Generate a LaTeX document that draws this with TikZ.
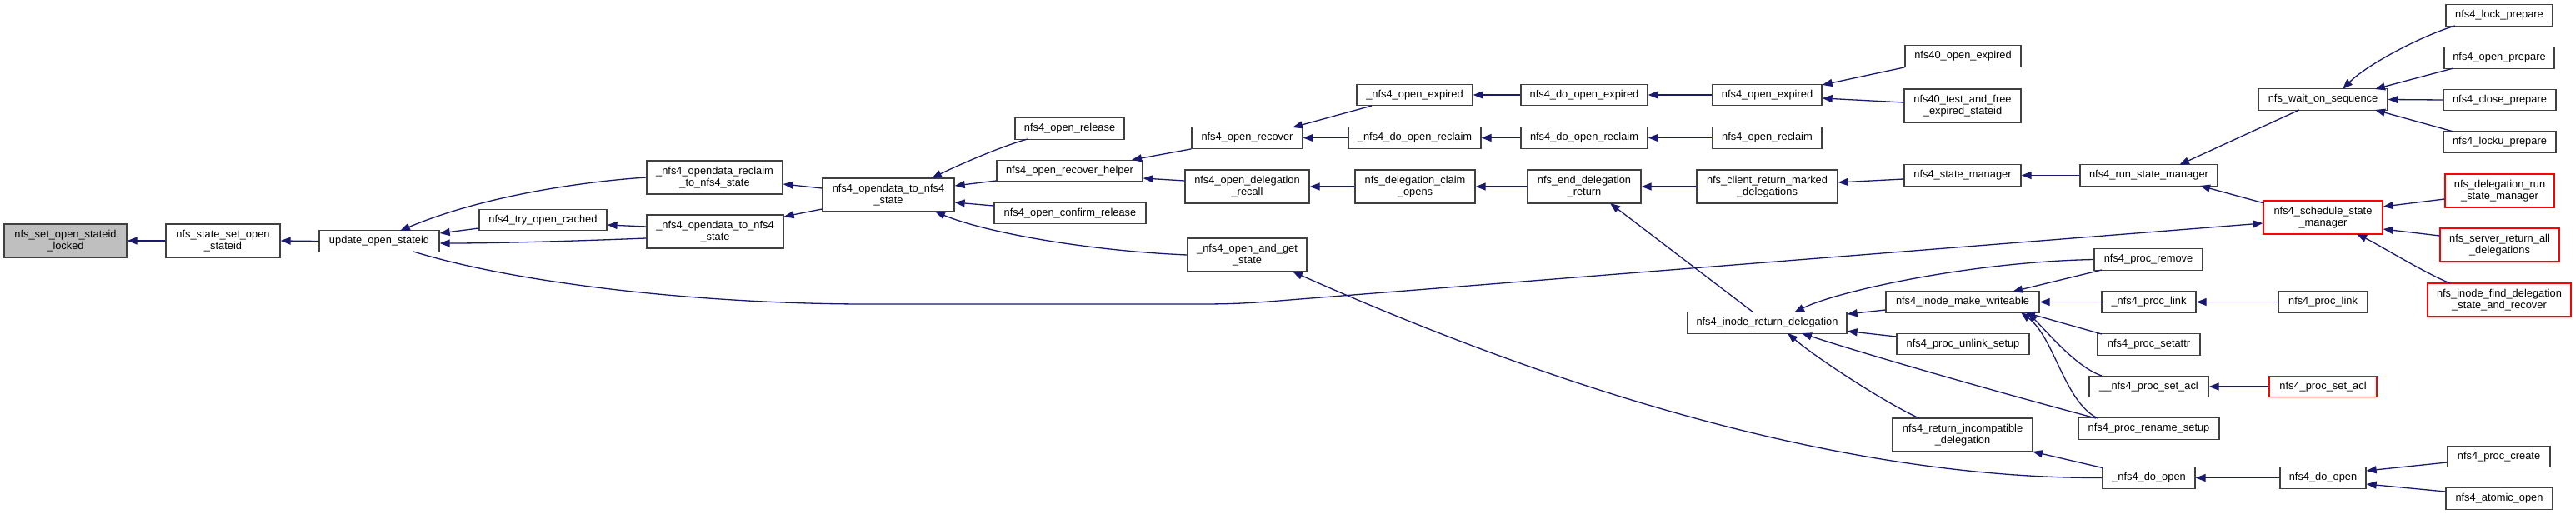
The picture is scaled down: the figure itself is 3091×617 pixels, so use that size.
\documentclass[tikz,border=0pt]{standalone}
\usepackage{fontspec}
\setmainfont{Liberation Sans}
\usetikzlibrary{arrows.meta,calc}
\definecolor{edgeblue}{HTML}{191970}
\definecolor{boxline}{HTML}{404040}
\definecolor{rootfill}{HTML}{BFBFBF}
\begin{document}
\begin{tikzpicture}[x=1pt,y=-1pt,
 box/.style={draw=boxline,line width=1.3pt,fill=white,inner sep=0pt,align=center,font=\fontsize{12.85}{14.5}\selectfont,minimum height=25.5pt},
 tall/.style={minimum height=40pt},
 redbox/.style={draw=red},
 root/.style={fill=rootfill},
 e/.style={edgeblue,line width=1.3pt,-{Triangle[length=12pt,width=9pt]}}]
\useasboundingbox[fill=white] (0,0) rectangle (3091,617);

% rank A-C
\node[box,tall,root,minimum width=147pt] (lk) at (78.5,289) {nfs\_set\_open\_stateid\\\_locked};
\node[box,tall,minimum width=137pt] (sso) at (267.5,289) {nfs\_state\_set\_open\\\_stateid};
\node[box,minimum width=144pt] (uos) at (455,289.5) {update\_open\_stateid};
% rank D-F
\node[box,minimum width=153pt] (toc) at (651.5,264) {nfs4\_try\_open\_cached};
\node[box,tall,minimum width=163pt] (rec) at (857.5,213) {\_nfs4\_opendata\_reclaim\\\_to\_nfs4\_state};
\node[box,tall,minimum width=164pt] (odt) at (858,278) {\_nfs4\_opendata\_to\_nfs4\\\_state};
\node[box,tall,minimum width=158pt] (od4) at (1066,234) {nfs4\_opendata\_to\_nfs4\\\_state};
% rank G
\node[box,minimum width=131pt] (orl) at (1283.5,154.5) {nfs4\_open\_release};
\node[box,minimum width=175pt] (orh) at (1283.5,205) {nfs4\_open\_recover\_helper};
\node[box,minimum width=182pt] (ocr) at (1284,256) {nfs4\_open\_confirm\_release};
% rank H
\node[box,minimum width=133pt] (orc) at (1496.5,165.5) {nfs4\_open\_recover};
\node[box,tall,minimum width=149pt] (odr) at (1496.5,224) {nfs4\_open\_delegation\\\_recall};
\node[box,tall,minimum width=143pt] (oag) at (1496.5,306) {\_nfs4\_open\_and\_get\\\_state};
% rank I
\node[box,minimum width=139pt] (oex) at (1697.5,114) {\_nfs4\_open\_expired};
\node[box,minimum width=159pt] (dor) at (1697.5,165.5) {\_nfs4\_do\_open\_reclaim};
\node[box,tall,minimum width=144pt] (dco) at (1698,224) {nfs\_delegation\_claim\\\_opens};
% rank J
\node[box,minimum width=152pt] (doe) at (1901,114) {nfs4\_do\_open\_expired};
\node[box,minimum width=152pt] (dorc) at (1901,165.5) {nfs4\_do\_open\_reclaim};
\node[box,tall,minimum width=136pt] (edr) at (1901,224) {nfs\_end\_delegation\\\_return};
% rank K
\node[box,minimum width=131pt] (noe) at (2120.5,114) {nfs4\_open\_expired};
\node[box,minimum width=131pt] (nor) at (2120.5,165.5) {nfs4\_open\_reclaim};
\node[box,tall,minimum width=169pt] (crm) at (2120.5,224) {nfs\_client\_return\_marked\\\_delegations};
\node[box,minimum width=191pt] (ird) at (2120.5,387.5) {nfs4\_inode\_return\_delegation};
% rank L
\node[box,minimum width=139pt] (nfe) at (2355.5,67.5) {nfs40\_open\_expired};
\node[box,tall,minimum width=140pt] (nft) at (2355,127) {nfs40\_test\_and\_free\\\_expired\_stateid};
\node[box,minimum width=140pt] (sm) at (2355,210.5) {nfs4\_state\_manager};
\node[box,minimum width=184pt] (imw) at (2355,362.5) {nfs4\_inode\_make\_writeable};
\node[box,minimum width=159pt] (pus) at (2355.5,413) {nfs4\_proc\_unlink\_setup};
\node[box,tall,minimum width=168pt] (ric) at (2355,522) {nfs4\_return\_incompatible\\\_delegation};
% rank M
\node[box,minimum width=165pt] (rsm) at (2578.5,210.5) {nfs4\_run\_state\_manager};
\node[box,minimum width=130pt] (prm) at (2578,311.5) {nfs4\_proc\_remove};
\node[box,minimum width=113pt] (plx) at (2578.5,362.5) {\_nfs4\_proc\_link};
\node[box,minimum width=123pt] (psa) at (2578.5,413.5) {nfs4\_proc\_setattr};
\node[box,minimum width=143pt] (psaclx) at (2578.5,464) {\_\_nfs4\_proc\_set\_acl};
\node[box,minimum width=169pt] (prs) at (2578.5,514.5) {nfs4\_proc\_rename\_setup};
\node[box,minimum width=111pt] (ddo) at (2578.5,573.5) {\_nfs4\_do\_open};
% rank N
\node[box,minimum width=155pt] (nws) at (2787.5,119.5) {nfs\_wait\_on\_sequence};
\node[box,tall,redbox,minimum width=143pt] (ssm) at (2787.5,261) {nfs4\_schedule\_state\\\_manager};
\node[box,minimum width=107pt] (pl) at (2787.5,362.5) {nfs4\_proc\_link};
\node[box,redbox,minimum width=129pt] (psacl) at (2787.5,464) {nfs4\_proc\_set\_acl};
\node[box,minimum width=103pt] (do) at (2787.5,573.5) {nfs4\_do\_open};
% rank O
\node[box,minimum width=128pt] (lkp) at (2999,18.5) {nfs4\_lock\_prepare};
\node[box,minimum width=132pt] (opp) at (2999,69.5) {nfs4\_open\_prepare};
\node[box,minimum width=135pt] (clp) at (2999.5,120) {nfs4\_close\_prepare};
\node[box,minimum width=135pt] (lup) at (2999.5,170.5) {nfs4\_locku\_prepare};
\node[box,tall,redbox,minimum width=131pt] (drsm) at (2999.5,229) {nfs\_delegation\_run\\\_state\_manager};
\node[box,tall,redbox,minimum width=143pt] (srad) at (2999.5,294) {nfs\_server\_return\_all\\\_delegations};
\node[box,tall,redbox,minimum width=172pt] (nifd) at (2999,360) {nfs\_inode\_find\_delegation\\\_state\_and\_recover};
\node[box,minimum width=123pt] (pcr) at (2998.5,548) {nfs4\_proc\_create};
\node[box,minimum width=128pt] (aop) at (2999,598.5) {nfs4\_atomic\_open};

% edges
\draw[e] (sso.west) -- (lk.east);
\draw[e] (uos.west) -- (sso.east);
\draw[e] (rec.west) .. controls +(-76,5) and +(100,-42) .. ($(uos)+(25,-12.5)$);
\draw[e] ($(toc.west)+(0,10)$) -- ($(uos.east)+(0,-9.5)$);
\draw[e] ($(odt.west)+(0,8)$) .. controls +(-76,3) and +(73,0) .. ($(uos.east)+(0,2.5)$);
\draw[e] ($(od4.west)+(0,-8)$) -- ($(rec.east)+(0,8)$);
\draw[e] ($(od4.west)+(0,17)$) -- ($(odt.east)+(0,-18)$);
\draw[e] ($(odt.west)+(0,-6)$) -- ($(toc.east)+(0,6)$);
\draw[e] ($(orl)+(-50.5,12.5)$) .. controls +(-30,8) and +(30,-15) .. ($(od4)+(52,-20)$);
\draw[e] ($(orh.west)+(0,12)$) -- ($(od4.east)+(0,-11)$);
\draw[e] ($(ocr.west)+(0,-9)$) -- ($(od4.east)+(0,9)$);
\draw[e] (oag.west) .. controls +(-120,-5) and +(60,25) .. ($(od4)+(56,20)$);
\draw[e] (orc.south west) -- ($(orh)+(74.5,-13)$);
\draw[e] ($(odr.west)+(0,-7)$) -- ($(orh.east)+(0,9)$);
\draw[e] ($(oex)+(-51.5,13)$) -- ($(orc)+(54.5,-12.5)$);
\draw[e] (dor.west) -- (orc.east);
\draw[e] (dco.west) -- (odr.east);
\draw[e] (doe.west) -- (oex.east);
\draw[e] (dorc.west) -- (dor.east);
\draw[e] (edr.west) -- (dco.east);
\draw[e] (noe.west) -- (doe.east);
\draw[e] (nor.west) -- (dorc.east);
\draw[e] (crm.west) -- (edr.east);
\draw[e] ($(ird)+(-16.5,-12.5)$) -- ($(edr)+(31,20)$);
\draw[e] (nfe.south west) -- ($(noe.east)+(0,-12)$);
\draw[e] ($(nft.west)+(0,-4)$) -- ($(noe.east)+(0,4)$);
\draw[e] ($(sm.west)+(0,4.5)$) -- ($(crm.east)+(0,-5)$);
\draw[e] ($(imw.west)+(0,9.5)$) -- ($(ird.east)+(0,-10.5)$);
\draw[e] ($(pus.west)+(0,-9)$) -- ($(ird.east)+(0,10)$);
\draw[e] ($(ric)+(-52,-20)$) .. controls +(-40,-18) and +(35,30) .. ($(ird)+(24.5,12.5)$);
\draw[e] ($(prs)+(-63.5,-12.5)$) .. controls +(-150,-40) and +(60,20) .. ($(ird)+(41.5,12.5)$);
\draw[e] (prm.west) .. controls +(-150,3) and +(50,-25) .. ($(ird)+(32.5,-12.5)$);
\draw[e] ($(prm)+(-56,12.5)$) -- ($(imw)+(60,-12.5)$);
\draw[e] (plx.west) -- (imw.east);
\draw[e] ($(psa)+(-56.5,-12.5)$) -- ($(imw)+(75,12.5)$);
\draw[e] ($(psaclx)+(-56.5,-13)$) .. controls +(-30,-10) and +(25,25) .. ($(imw)+(78,12.5)$);
\draw[e] ($(prs)+(-61.5,-12.5)$) .. controls +(-40,-20) and +(40,30) .. ($(imw)+(70,12.5)$);
\draw[e] ($(ddo)+(-55.5,-12)$) -- ($(ric)+(84,20)$);
\draw[e] (ddo.west) .. controls +(-323,1) and +(299,133) .. ($(oag)+(54.5,20)$);
\draw[e] ($(uos)+(41,12.5)$) .. controls (626,342) and (850,365) .. (1040,365) -- (1440,365) .. controls (1490,365) and (1510,363) .. (1560,359) -- ($(ssm.west)+(0,7)$);
\draw[e] (rsm.west) -- (sm.east);
\draw[e] ($(nws)+(-28.5,12.5)$) -- ($(rsm)+(36.5,-12.5)$);
\draw[e] ($(ssm)+(-70.5,-17)$) -- ($(rsm)+(61.5,12.5)$);
\draw[e] ($(lkp)+(-53,12.5)$) .. controls +(-40,12) and +(30,-30) .. ($(nws)+(23.5,-12.5)$);
\draw[e] ($(opp)+(-55,12.5)$) -- ($(nws)+(62.5,-12.5)$);
\draw[e] (clp.west) -- (nws.east);
\draw[e] ($(lup)+(-55.5,-12.5)$) -- ($(nws)+(62.5,12.5)$);
\draw[e] ($(drsm.west)+(0,10)$) -- ($(ssm.east)+(0,-13)$);
\draw[e] ($(srad.west)+(0,-11)$) -- ($(ssm.east)+(0,14)$);
\draw[e] ($(nifd)+(-59,-20)$) .. controls +(-30,-12) and +(25,12) .. ($(ssm)+(40.5,20)$);
\draw[e] (pl.west) -- (plx.east);
\draw[e] (psacl.west) -- (psaclx.east);
\draw[e] (do.west) -- (ddo.east);
\draw[e] ($(pcr.west)+(0,7)$) -- ($(do.east)+(0,-8.5)$);
\draw[e] ($(aop.west)+(0,-8.5)$) -- ($(do.east)+(0,7.5)$);
\end{tikzpicture}
\end{document}
